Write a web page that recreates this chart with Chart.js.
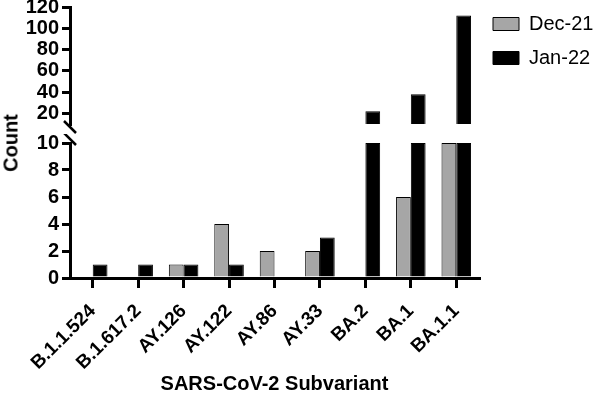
<!DOCTYPE html>
<html>
<head>
<meta charset="utf-8">
<script src="https://cdn.jsdelivr.net/npm/chart.js@4.4.1/dist/chart.umd.min.js"></script>
<style>
  html, body { margin: 0; padding: 0; background: #fff; }
  #wrap { position: relative; width: 597px; height: 398px; overflow: hidden; }
  #upper { position: absolute; left: 0; top: 0; }
  #lower { position: absolute; left: 0; top: 134px; }
  #ytitle {
    position: absolute; left: 11px; top: 143px;
    transform: translate(-50%, -50%) rotate(-90deg);
    font: bold 20px "Liberation Sans", Arial, sans-serif; color: #000;
    white-space: nowrap;
  }
</style>
</head>
<body>
<div id="wrap">
  <canvas id="upper" width="597" height="134"></canvas>
  <canvas id="lower" width="597" height="264"></canvas>
  <div id="ytitle">Count</div>
</div>
<script>
// values
const subvariants = ['B.1.1.524', 'B.1.617.2', 'AY.126', 'AY.122', 'AY.86', 'AY.33', 'BA.2', 'BA.1', 'BA.1.1'];
const dec21 = [0, 0, 1, 4, 2, 2, 0, 6, 10];
const jan22 = [1, 1, 1, 1, 0, 3, 22, 38, 112];
const lowerTicks = [0, 2, 4, 6, 8, 10];
const upperTicks = [20, 40, 60, 80, 100, 120];
const breakAt = 10;

const FONT = '"Liberation Sans", Arial, sans-serif';
const GREY = '#a6a6a6';

// little slash on the axis where it is broken
const breakMark = (where) => ({
    id: 'breakMark',
    afterDraw(chart) {
        const s = chart.scales.y;
        const x = s.right;
        const y = where === 'bottom' ? s.bottom + 3 : s.top - 4;
        const c = chart.ctx;
        c.save();
        c.strokeStyle = '#000';
        c.lineWidth = 2.5;
        c.beginPath();
        c.moveTo(x - 6, y - 6);
        c.lineTo(x + 6, y + 6);
        c.stroke();
        c.restore();
    }
});

const yAxis = (min, max, ticks, padTop) => ({
    min: min, max: max,
    afterBuildTicks: (s) => { s.ticks = ticks.map(v => ({ value: v })); },
    afterFit: (s) => { s.width = 70; s.paddingTop = padTop; s.paddingBottom = 0; },
    ticks: { color: '#000', autoSkip: false, font: { family: FONT, size: 20, weight: 'bold' }, padding: 3 },
    grid: { drawOnChartArea: false, drawTicks: true, tickLength: 8, lineWidth: 3, color: '#000' },
    border: { color: '#000', width: 3 }
});

const barSet = (label, data, color) => ({
    label: label,
    data: data,
    backgroundColor: color,
    borderColor: '#000',
    borderWidth: 1,
    barPercentage: 1.0,
    categoryPercentage: 0.65
});

// top part of the broken axis
new Chart(document.getElementById('upper'), {
    type: 'bar',
    data: {
        labels: subvariants,
        datasets: [
            barSet('Dec-21', dec21.map(v => v > breakAt ? [breakAt, v] : null), GREY),
            barSet('Jan-22', jan22.map(v => v > breakAt ? [breakAt, v] : null), '#000')
        ]
    },
    options: {
        responsive: false,
        animation: false,
        layout: { padding: { top: 0, bottom: 10, left: 0, right: 0 } },
        scales: {
            x: { display: false, offset: true },
            y: yAxis(breakAt, 120, upperTicks, 7)
        },
        plugins: {
            legend: {
                position: 'right',
                align: 'start',
                maxWidth: 118,
                labels: {
                    boxWidth: 26, boxHeight: 13, padding: 14, color: '#000',
                    font: { family: FONT, size: 20 }
                }
            },
            tooltip: { enabled: false }
        }
    },
    plugins: [breakMark('bottom')]
});

// bottom part of the broken axis
new Chart(document.getElementById('lower'), {
    type: 'bar',
    data: {
        labels: subvariants,
        datasets: [
            barSet('Dec-21', dec21.map(v => Math.min(v, breakAt)), GREY),
            barSet('Jan-22', jan22.map(v => Math.min(v, breakAt)), '#000')
        ]
    },
    options: {
        responsive: false,
        animation: false,
        layout: { padding: { top: 9, bottom: 0, left: 0, right: 118 } },
        scales: {
            x: {
                offset: true,
                afterFit: (s) => { s.height = 120; s.paddingLeft = 0; s.paddingRight = 0; },
                ticks: {
                    color: '#000', minRotation: 45, maxRotation: 45, padding: 12, autoSkip: false,
                    font: { family: FONT, size: 19, weight: 'bold' }
                },
                grid: { drawOnChartArea: false, drawTicks: true, offset: false, tickLength: 10, lineWidth: 3, color: '#000' },
                border: { color: '#000', width: 3 },
                title: {
                    display: true, text: 'SARS-CoV-2 Subvariant', color: '#000',
                    font: { family: FONT, size: 20, weight: 'bold' }, padding: { top: 0, bottom: 2 }
                }
            },
            y: yAxis(0, breakAt, lowerTicks, 0)
        },
        plugins: { legend: { display: false }, tooltip: { enabled: false } }
    },
    plugins: [breakMark('top')]
});
</script>
</body>
</html>
